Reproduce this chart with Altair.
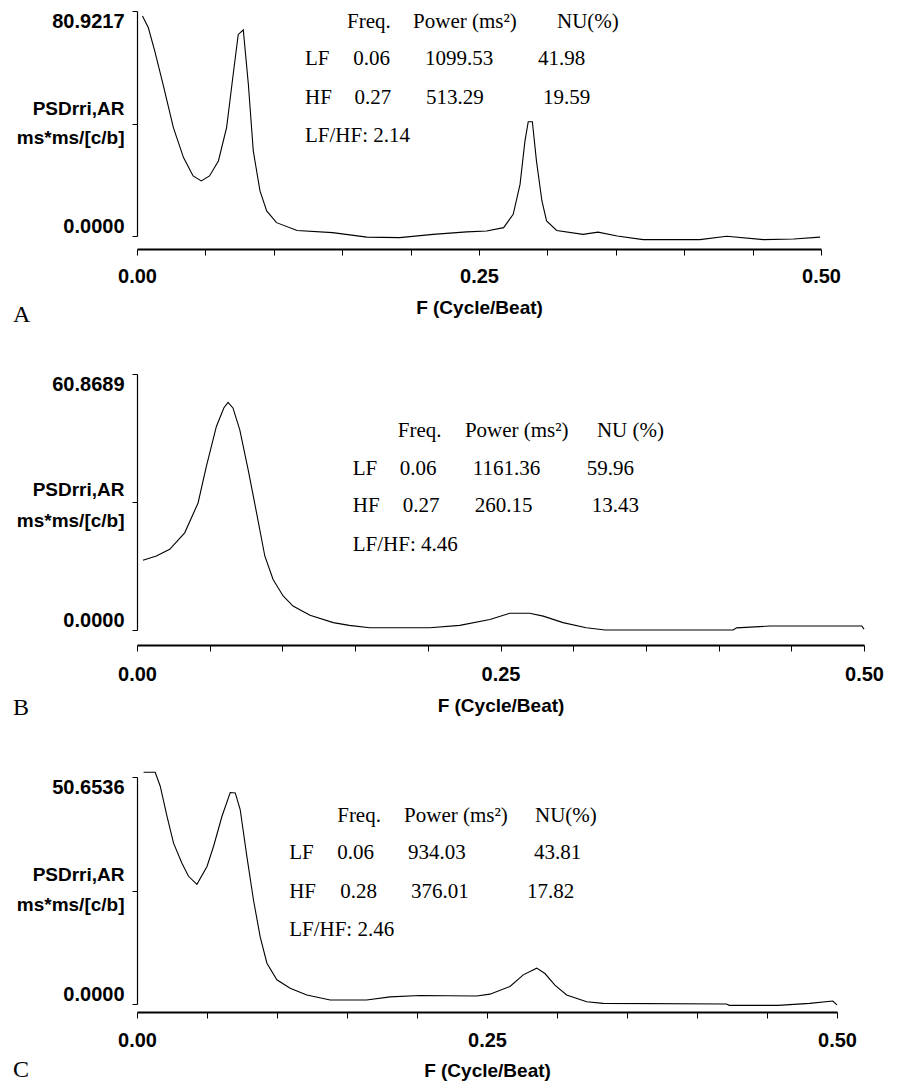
import altair as alt
import pandas as pd

# ---------------- data ----------------
freq_a = [0.004, 0.0083, 0.013, 0.019, 0.0266, 0.034, 0.041, 0.047, 0.053, 0.0595,
          0.0655, 0.070, 0.074, 0.0777, 0.0814, 0.085, 0.0899, 0.0948, 0.102, 0.117,
          0.143, 0.168, 0.192, 0.2164, 0.241, 0.2556, 0.268, 0.275, 0.280, 0.2836,
          0.286, 0.289, 0.292, 0.296, 0.2994, 0.3068, 0.326, 0.337, 0.351, 0.370,
          0.4115, 0.431, 0.458, 0.480, 0.4993]
psd_a = [79.1, 74.9, 66.5, 54.6, 39.0, 28.2, 21.6, 19.8, 21.6, 27.0,
         39.0, 56.9, 72.5, 74.1, 54.6, 30.6, 16.2, 9.0, 4.8, 2.0,
         1.2, -0.4, -0.6, 0.6, 1.5, 1.8, 3.0, 7.8, 18.6, 34.2,
         41.1, 41.1, 27.0, 12.6, 5.4, 2.0, 0.6, 1.4, 0.0, -1.3,
         -1.3, -0.1, -1.3, -1.1, -0.4]

freq_b = [0.0041, 0.0133, 0.0225, 0.0328, 0.042, 0.0477, 0.0546, 0.0597, 0.0626, 0.066,
          0.0707, 0.0764, 0.0822, 0.0879, 0.0936, 0.1005, 0.1073, 0.119, 0.135, 0.146,
          0.160, 0.2014, 0.222, 0.2427, 0.2564, 0.270, 0.2794, 0.293, 0.309, 0.322,
          0.410, 0.4124, 0.4353, 0.4985, 0.5]
psd_b = [16.6, 17.6, 19.2, 23.1, 30.2, 38.9, 48.4, 52.8, 54.1, 52.8,
         47.6, 38.2, 27.9, 17.6, 12.0, 8.1, 5.7, 3.5, 1.75, 1.1,
         0.55, 0.55, 1.1, 2.5, 4.0, 4.0, 3.3, 1.75, 0.55, 0.0,
         0.0, 0.5, 0.95, 0.95, 0.2]

freq_c = [0.0047, 0.013, 0.0166, 0.0214, 0.0261, 0.0321, 0.0368, 0.0428, 0.050, 0.0547,
          0.0607, 0.0666, 0.0702, 0.0737, 0.0785, 0.0832, 0.088, 0.0928, 0.0999, 0.1094,
          0.1213, 0.138, 0.164, 0.1808, 0.202, 0.2426, 0.2521, 0.2664, 0.2759, 0.2855,
          0.2914, 0.2985, 0.3069, 0.3212, 0.333, 0.421, 0.423, 0.458, 0.4805, 0.497, 0.5]
psd_c = [51.7, 51.7, 48.6, 41.9, 35.9, 31.4, 28.5, 26.7, 30.7, 35.2,
         41.9, 47.2, 47.1, 43.4, 32.9, 23.2, 15.0, 9.1, 5.4, 3.5,
         2.0, 0.9, 0.9, 1.6, 1.9, 1.8, 2.2, 3.9, 6.5, 8.0,
         6.8, 4.2, 2.0, 0.5, 0.13, 0.0, -0.3, -0.3, 0.13, 0.67, -0.2]

y_max = [80.9217, 60.8689, 50.6536]
x_ticks = [round(k * 0.05, 2) for k in range(11)]
x_labels = [0, 0.25, 0.5]
panel_letters = ["A", "B", "C"]

header = ["Freq.", "Power (ms\u00b2)"]
nu_headers = ["NU(%)", "NU (%)", "NU(%)"]
lf_freq = ["0.06", "0.06", "0.06"]
hf_freq = ["0.27", "0.27", "0.28"]
lf_power = ["1099.53", "1161.36", "934.03"]
hf_power = ["513.29", "260.15", "376.01"]
lf_nu = ["41.98", "59.96", "43.81"]
hf_nu = ["19.59", "13.43", "17.82"]
lfhf = ["2.14", "4.46", "2.46"]

# ---------------- layout (annotation placement, data units) ----------------
ann_rows = [[77.0, 63.7, 49.6, 36.0], [47.2, 38.2, 29.4, 20.3], [41.9, 33.6, 25.1, 16.6]]
ann_cols = [
    [0.1228, 0.1535, 0.158, 0.159, 0.2018, 0.2105, 0.2113, 0.307, 0.2931, 0.2968],
    [0.1484, 0.1794, 0.1807, 0.1828, 0.2255, 0.231, 0.2323, 0.3163, 0.3094, 0.3128],
    [0.1087, 0.143, 0.143, 0.1451, 0.1908, 0.1936, 0.1958, 0.2843, 0.2835, 0.2785],
]
widths = [684, 727, 700]
heights = [225, 256, 227]
x_offsets = [13, 15, 8]
x_label_pad = [11, 13, 12]
x_title_pad = [12, 12, 11]
letter_y = [304, 334, 293]
title_y = [97.5, 115.7, 97.8]
title_line_h = [29, 31, 30]
top_pad = [0, 0, -8.3]   # invisible spacer above each panel (pixels above plot top)

AXIS_FONT = "Liberation Sans"
SERIF = "Liberation Serif"


def panel(i, freq, psd):
    df = pd.DataFrame({"f": freq, "v": psd})
    ymax = y_max[i]
    xlab_expr = "indexof(%s, datum.value) >= 0 ? format(datum.value, '.2f') : ''" % str(x_labels)
    ylab_expr = "(datum.value == 0 || datum.value > %f) ? format(datum.value, '.4f') : ''" % (ymax * 0.75)

    x_enc = alt.X(
        "f:Q",
        scale=alt.Scale(domain=[0, 0.5], nice=False, zero=False),
        axis=alt.Axis(
            values=x_ticks, labelExpr=xlab_expr, offset=x_offsets[i], grid=False,
            tickSize=6, tickWidth=1, tickColor="black", domainColor="black", domainWidth=1.8,
            labelFont=AXIS_FONT, labelFontSize=20, labelFontWeight="bold", labelColor="black",
            labelPadding=x_label_pad[i], labelFlush=False,
            title="F (Cycle/Beat)", titleFont=AXIS_FONT, titleFontSize=19, titleFontWeight="bold",
            titleColor="black", titlePadding=x_title_pad[i],
        ),
    )
    y_enc = alt.Y(
        "v:Q",
        scale=alt.Scale(domain=[0, ymax], nice=False, zero=False),
        axis=alt.Axis(
            values=[0, ymax / 2, ymax], labelExpr=ylab_expr, grid=False,
            tickSize=5, tickWidth=1, tickColor="black", domainColor="black", domainWidth=1.2,
            labelFont=AXIS_FONT, labelFontSize=20, labelFontWeight="bold", labelColor="black",
            labelPadding=8, labelFlush=True,
            title=["PSDrri,AR", "ms*ms/[c/b]"], titleFont=AXIS_FONT, titleFontSize=19,
            titleFontWeight="bold", titleColor="black", titleAngle=0, titleAlign="right",
            titleBaseline="middle", titleX=-13, titleY=title_y[i],
            titleLineHeight=title_line_h[i],
        ),
    )
    line = alt.Chart(df).mark_line(color="black", strokeWidth=1.1, clip=False).encode(x=x_enc, y=y_enc)

    r = ann_rows[i]
    c = ann_cols[i]
    texts = [
        (header[0], c[1], r[0]), (header[1], c[4], r[0]), (nu_headers[i], c[7], r[0]),
        ("LF", c[0], r[1]), (lf_freq[i], c[2], r[1]), (lf_power[i], c[5], r[1]), (lf_nu[i], c[8], r[1]),
        ("HF", c[0], r[2]), (hf_freq[i], c[3], r[2]), (hf_power[i], c[6], r[2]), (hf_nu[i], c[9], r[2]),
        ("LF/HF: " + lfhf[i], c[0], r[3]),
    ]
    tdf = pd.DataFrame(texts, columns=["t", "f", "v"])
    ann = alt.Chart(tdf).mark_text(
        align="left", baseline="middle", font=SERIF, fontSize=21, color="black"
    ).encode(x="f:Q", y="v:Q", text="t:N")

    letter = alt.Chart(pd.DataFrame({"t": [panel_letters[i]]})).mark_text(
        align="left", baseline="middle", font=SERIF, fontSize=24, color="black"
    ).encode(x=alt.value(-124), y=alt.value(letter_y[i]), text="t:N")

    layers = [line, ann, letter]
    if top_pad[i] != 0:
        spacer = alt.Chart(pd.DataFrame({"t": [""]})).mark_square(
            size=16, opacity=0, color="white"
        ).encode(x=alt.value(300), y=alt.value(top_pad[i]))
        layers.append(spacer)

    return alt.layer(*layers).properties(width=widths[i], height=heights[i])


pa = panel(0, freq_a, psd_a)
pb = panel(1, freq_b, psd_b)
pc = panel(2, freq_c, psd_c)

chart = alt.vconcat(pa, pb, pc, spacing=46).properties(
    padding={"left": 5, "top": 2, "right": 5, "bottom": 2},
    background="white",
).configure_view(stroke=None, strokeWidth=0)

chart.save("out.html", embed_options={"renderer": "svg", "actions": False})
